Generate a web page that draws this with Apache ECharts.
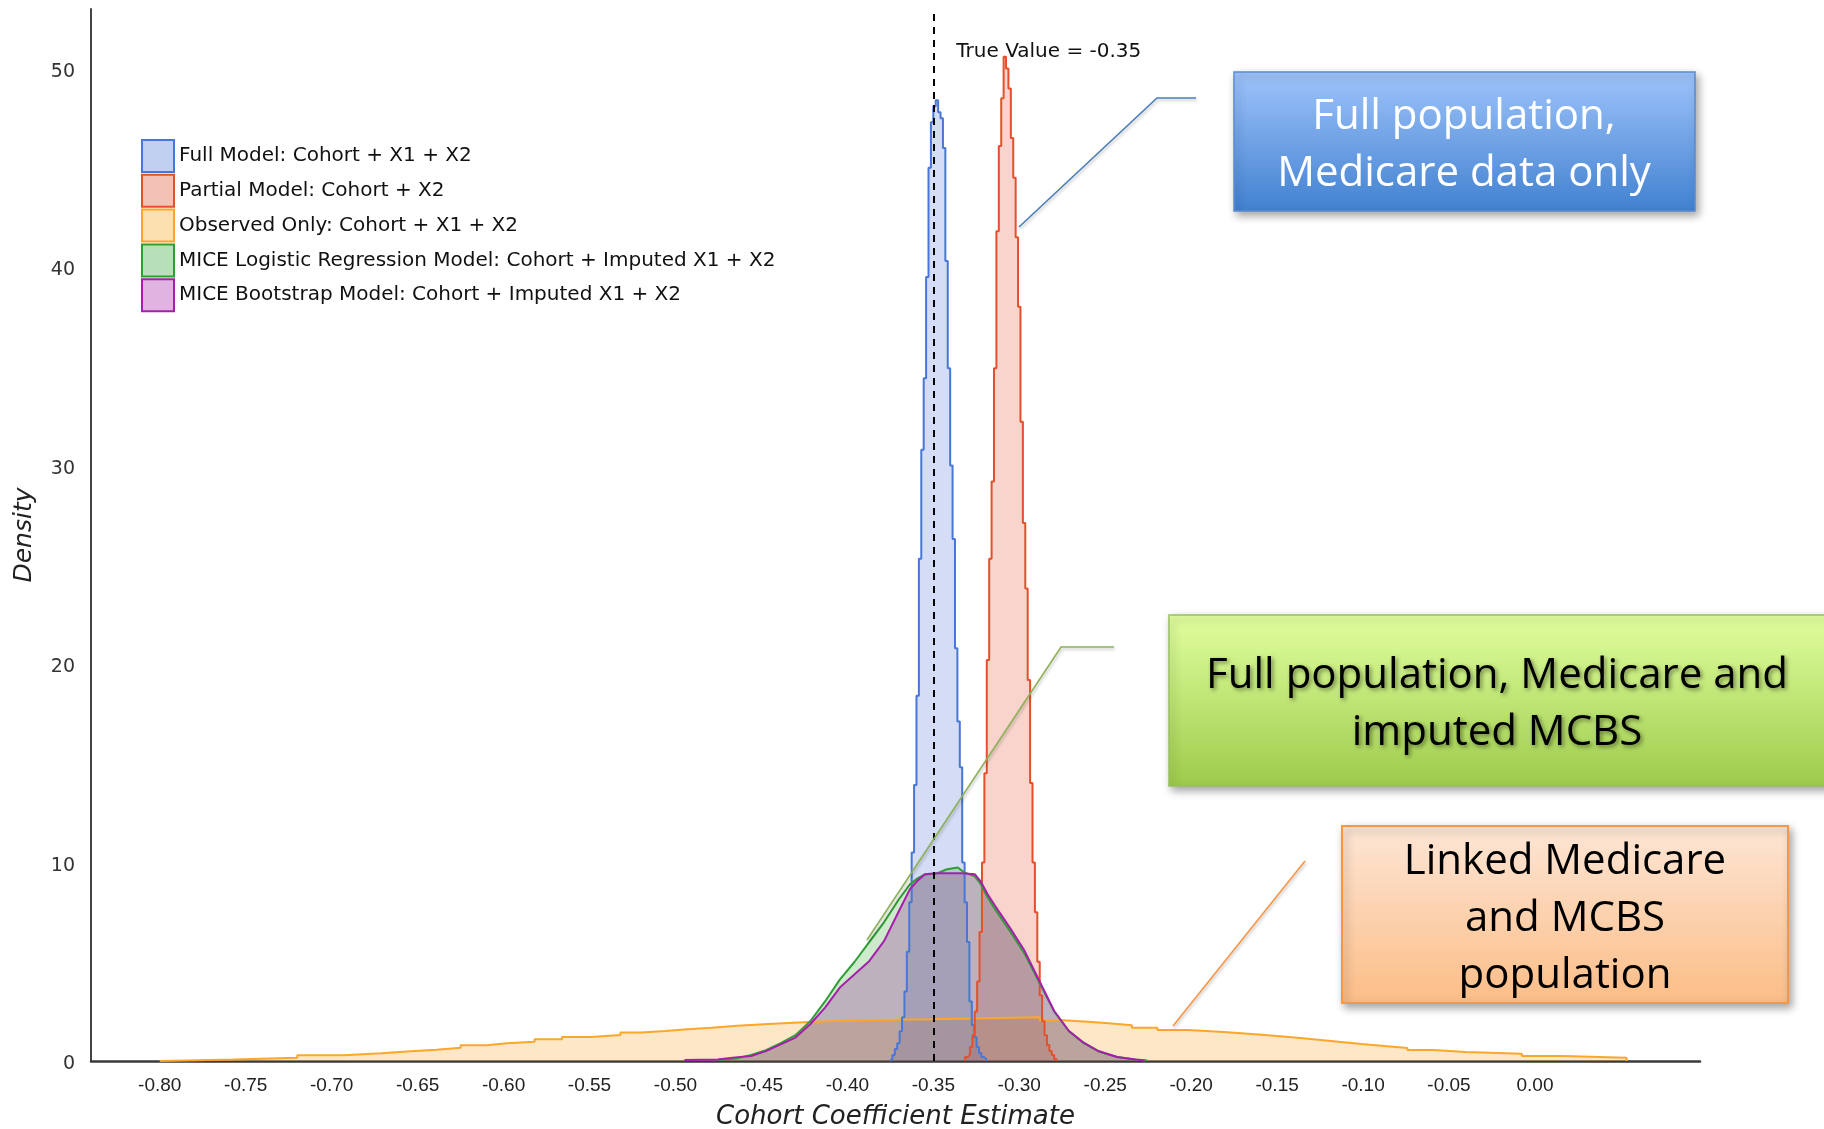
<!DOCTYPE html>
<html>
<head>
<meta charset="utf-8">
<script src="https://cdn.jsdelivr.net/npm/echarts@6/dist/echarts.min.js"></script>
<style>
html,body{margin:0;padding:0;background:#ffffff;}
#chart{width:1824px;height:1129px;}
</style>
</head>
<body>
<div id="chart"></div>
<script>
// ---------------- data ----------------
const seriesNames = [
  'Full Model: Cohort + X1 + X2',
  'Partial Model: Cohort + X2',
  'Observed Only: Cohort + X1 + X2',
  'MICE Logistic Regression Model: Cohort + Imputed X1 + X2',
  'MICE Bootstrap Model: Cohort + Imputed X1 + X2'
];
const xTickValues = [-0.80, -0.75, -0.70, -0.65, -0.60, -0.55, -0.50, -0.45, -0.40, -0.35, -0.30, -0.25, -0.20, -0.15, -0.10, -0.05, 0.00];
const yTickValues = [0, 10, 20, 30, 40, 50];
const trueValue = -0.35;
const trueValueLabel = 'True Value = -0.35';

// Full model histogram (bin start, bin width, densities)
const fullBinStart = -0.3752;
const fullBinWidth = 0.0014;
const fullDensity = [0.1, 0.3, 0.6, 0.9, 1.5, 2.2, 3.5, 5.5, 8.0, 10.5,
  13.9, 18.4, 25.3, 30.8, 34.4, 39.5, 45.0, 47.3, 48.1, 48.4,
  47.8, 47.5, 46.0, 40.3, 34.9, 30.0, 26.3, 20.8, 17.1, 14.8,
  10.0, 8.0, 6.0, 3.0, 1.8, 1.2, 0.7, 0.4, 0.2, 0.1];

// Partial model histogram
const partialBinStart = -0.3315;
const partialBinWidth = 0.0014;
const partialDensity = [0.2, 0.3, 0.7, 1.3, 2.5, 4.0, 6.5, 10.0, 14.5, 20.2,
  25.3, 29.2, 34.9, 41.8, 46.1, 48.5, 50.6, 50.0, 49.0, 46.5,
  44.5, 41.5, 38.0, 32.2, 27.1, 23.8, 19.2, 14.0, 10.0, 7.5,
  5.0, 3.3, 2.0, 1.3, 0.8, 0.5, 0.3, 0.1];

// Observed only histogram (step edges and densities)
const observedEdges = [-0.800, -0.757, -0.720, -0.693, -0.671, -0.654, -0.639, -0.625, -0.610, -0.598,
  -0.582, -0.566, -0.549, -0.532, -0.520, -0.506, -0.493, -0.479, -0.464, -0.446,
  -0.422, -0.395, -0.351, -0.288, -0.2745, -0.260, -0.248, -0.2345, -0.2196, -0.2018,
  -0.181, -0.1648, -0.150, -0.1366, -0.1247, -0.1129, -0.101, -0.0876, -0.0742, -0.0594,
  -0.0402, -0.0076, 0.0162, 0.0533];
const observedDensity = [0.08, 0.17, 0.29, 0.39, 0.49, 0.57, 0.67, 0.79, 0.89, 0.97,
  1.09, 1.21, 1.31, 1.43, 1.51, 1.60, 1.68, 1.78, 1.87, 1.97,
  2.05, 2.10, 2.20, 2.05, 1.98, 1.90, 1.80, 1.68, 1.56, 1.46,
  1.36, 1.26, 1.16, 1.06, 0.96, 0.86, 0.76, 0.66, 0.55, 0.45,
  0.37, 0.25, 0.17];

// MICE logistic regression density curve
const miceLrX = [-0.4755, -0.465, -0.456, -0.4474, -0.4388, -0.4302, -0.4216, -0.413, -0.4044, -0.3958,
  -0.3872, -0.3786, -0.370, -0.3636, -0.3592, -0.3549, -0.348, -0.342, -0.3357, -0.332,
  -0.3259, -0.3227, -0.3184, -0.3141, -0.3055, -0.2969, -0.2883, -0.2797, -0.2711, -0.2625,
  -0.2539, -0.2431, -0.2324, -0.2255];
const miceLrY = [0.05, 0.12, 0.30, 0.55, 0.90, 1.30, 2.00, 3.00, 4.10, 5.00,
  6.00, 7.00, 8.15, 8.90, 9.20, 9.40, 9.45, 9.66, 9.75, 9.50,
  9.30, 8.95, 8.25, 7.65, 6.55, 5.40, 3.95, 2.50, 1.50, 0.90,
  0.48, 0.20, 0.07, 0.02];

// MICE bootstrap density curve
const miceBsX = [-0.4948, -0.4754, -0.4668, -0.456, -0.4474, -0.4388, -0.4302, -0.4216, -0.413, -0.4044,
  -0.3958, -0.3872, -0.3786, -0.370, -0.3636, -0.3592, -0.3549, -0.3485, -0.3334, -0.3259,
  -0.3227, -0.3184, -0.3141, -0.3055, -0.2969, -0.2883, -0.2797, -0.2711, -0.2625, -0.2539,
  -0.2431, -0.2324, -0.227];
const miceBsY = [0.05, 0.08, 0.17, 0.25, 0.50, 0.84, 1.18, 1.85, 2.69, 3.70,
  4.37, 5.04, 6.05, 7.56, 8.66, 9.08, 9.41, 9.46, 9.46, 9.41,
  9.08, 8.40, 7.82, 6.72, 5.55, 4.03, 2.52, 1.51, 0.92, 0.50,
  0.20, 0.07, 0.03];

// ---------------- helpers ----------------
function binsToStep(start, width, dens) {
  const pts = [[start, 0]];
  dens.forEach((d, i) => pts.push([+(start + i * width).toFixed(5), d]));
  pts.push([+(start + dens.length * width).toFixed(5), 0]);
  return pts;
}
function edgesToStep(edges, dens) {
  const pts = [[edges[0], 0]];
  dens.forEach((d, i) => pts.push([edges[i], d]));
  pts.push([edges[edges.length - 1], 0]);
  return pts;
}
function zipXY(xs, ys) { return xs.map((x, i) => [x, ys[i]]); }

const styles = {
  full:     { line: '#4877d6', area: 'rgba(70,110,210,0.33)', swatch: '#c1d0f0' },
  partial:  { line: '#e4502c', area: 'rgba(225,80,50,0.35)',  swatch: '#f3c1b5' },
  observed: { line: '#fca62a', area: 'rgba(252,175,60,0.42)', swatch: '#fde0b0' },
  miceLr:   { line: '#2f9e35', area: 'rgba(50,170,50,0.35)',  swatch: '#b8e0b8' },
  miceBs:   { line: '#a61fab', area: 'rgba(150,40,150,0.42)', swatch: '#e0b3e0' }
};

const chart = echarts.init(document.getElementById('chart'), null, { renderer: 'canvas' });

function lineSeries(name, data, st, step) {
  return {
    type: 'line', name: name, data: data, step: step || false,
    symbol: 'none', showSymbol: false, smooth: false, silent: true,
    lineStyle: { color: st.line, width: 2 },
    itemStyle: { color: st.line },
    areaStyle: { color: st.area, origin: 'start' },
    emphasis: { disabled: true }
  };
}

const option = {
  animation: false,
  backgroundColor: '#ffffff',
  grid: { left: 91, right: 124, top: 9, bottom: 68, containLabel: false, outerBoundsMode: 'none' },
  xAxis: {
    type: 'value', min: -0.84, max: 0.096,
    name: 'Cohort Coefficient Estimate', nameLocation: 'middle', nameGap: 43,
    nameTextStyle: { fontFamily: 'DejaVu Sans', fontStyle: 'italic', fontSize: 26, color: '#222' },
    axisLine: { show: true, onZero: false, lineStyle: { color: '#3a3a3a', width: 2.5 } },
    axisTick: { show: false },
    splitLine: { show: false },
    axisLabel: {
      customValues: xTickValues, margin: 15,
      formatter: v => Number(v).toFixed(2),
      fontFamily: 'Liberation Sans', fontSize: 19, color: '#222'
    }
  },
  yAxis: {
    type: 'value', min: 0, max: 53,
    name: 'Density', nameLocation: 'middle', nameGap: 54, nameRotate: 90,
    nameTextStyle: { fontFamily: 'DejaVu Sans', fontStyle: 'italic', fontSize: 25, color: '#222' },
    axisLine: { show: true, onZero: false, lineStyle: { color: '#444', width: 2 } },
    axisTick: { show: false },
    splitLine: { show: false },
    axisLabel: {
      customValues: yTickValues, margin: 16, verticalAlign: 'top', lineHeight: 7,
      fontFamily: 'DejaVu Sans', fontSize: 19, color: '#333'
    }
  },
  legend: {
    orient: 'vertical', left: 141, top: 139, padding: 0,
    itemWidth: 32, itemHeight: 32, itemGap: 0.8,
    selectedMode: false,
    textStyle: { fontFamily: 'DejaVu Sans', fontSize: 20, color: '#111' },
    data: [
      { name: seriesNames[0], icon: 'rect', itemStyle: { color: styles.full.swatch, borderColor: styles.full.line, borderWidth: 2 } },
      { name: seriesNames[1], icon: 'rect', itemStyle: { color: styles.partial.swatch, borderColor: styles.partial.line, borderWidth: 2 } },
      { name: seriesNames[2], icon: 'rect', itemStyle: { color: styles.observed.swatch, borderColor: styles.observed.line, borderWidth: 2 } },
      { name: seriesNames[3], icon: 'rect', itemStyle: { color: styles.miceLr.swatch, borderColor: styles.miceLr.line, borderWidth: 2 } },
      { name: seriesNames[4], icon: 'rect', itemStyle: { color: styles.miceBs.swatch, borderColor: styles.miceBs.line, borderWidth: 2 } }
    ]
  },
  series: [
    lineSeries(seriesNames[2], edgesToStep(observedEdges, observedDensity), styles.observed, 'end'),
    lineSeries(seriesNames[0], binsToStep(fullBinStart, fullBinWidth, fullDensity), styles.full, 'end'),
    lineSeries(seriesNames[1], binsToStep(partialBinStart, partialBinWidth, partialDensity), styles.partial, 'end'),
    lineSeries(seriesNames[3], zipXY(miceLrX, miceLrY), styles.miceLr, false),
    Object.assign(lineSeries(seriesNames[4], zipXY(miceBsX, miceBsY), styles.miceBs, false), {
      markLine: {
        silent: true, symbol: ['none', 'none'], animation: false,
        label: { show: false },
        lineStyle: { color: '#000', type: [7, 6], width: 2 },
        data: [{ xAxis: trueValue }]
      }
    })
  ]
};
chart.setOption(option);

// ---------------- annotations ----------------
const tv = chart.convertToPixel({ gridIndex: 0 }, [trueValue, 51]);
function grad(c1, c2) {
  return { type: 'linear', x: 0, y: 0, x2: 0, y2: 1, colorStops: [{ offset: 0, color: c1 }, { offset: 1, color: c2 }] };
}
const boxShadow = { shadowBlur: 8, shadowOffsetX: 3, shadowOffsetY: 4, shadowColor: 'rgba(0,0,0,0.35)' };
const lineShadow = { shadowBlur: 3, shadowOffsetX: 1, shadowOffsetY: 2, shadowColor: 'rgba(0,0,0,0.25)' };

chart.setOption({
  graphic: [
    { type: 'text', z: 100, x: tv[0] + 23, y: tv[1] + 3,
      style: { text: trueValueLabel, fill: '#111', font: '20px "DejaVu Sans"', textAlign: 'left', textVerticalAlign: 'middle', align: 'left', verticalAlign: 'middle' } },

    // leader lines
    { type: 'polyline', z: 100, shape: { points: [[1196, 98], [1157, 98], [1019, 227]] },
      style: Object.assign({ stroke: '#4a7ebb', lineWidth: 1.6, fill: null }, lineShadow) },
    { type: 'polyline', z: 100, shape: { points: [[1114, 647], [1061, 647], [867, 940]] },
      style: Object.assign({ stroke: '#8db255', lineWidth: 1.6, fill: null }, lineShadow) },
    { type: 'polyline', z: 100, shape: { points: [[1305, 861], [1173, 1026]] },
      style: Object.assign({ stroke: '#f79646', lineWidth: 1.6, fill: null }, lineShadow) },

    // box 1
    { type: 'rect', z: 100, shape: { x: 1234, y: 72, width: 461, height: 139 },
      style: Object.assign({ fill: grad('#9fc4fb', '#4181d0'), stroke: '#5b8bd0', lineWidth: 1.5 }, boxShadow) },
    { type: 'text', z: 101, x: 1464, y: 146,
      style: { text: 'Full population,\nMedicare data only', fill: '#ffffff', font: '42px "Open Sans"', lineHeight: 57,
               textAlign: 'center', textVerticalAlign: 'middle', align: 'center', verticalAlign: 'middle' } },

    // box 2
    { type: 'rect', z: 100, shape: { x: 1169, y: 615, width: 700, height: 171 },
      style: Object.assign({ fill: grad('#e1ff9f', '#9dcb4b'), stroke: '#98c060', lineWidth: 1.5 }, boxShadow) },
    { type: 'text', z: 101, x: 1497, y: 705,
      style: { text: 'Full population, Medicare and\nimputed MCBS', fill: '#000000', font: '42px "Open Sans"', lineHeight: 57,
               textAlign: 'center', textVerticalAlign: 'middle', align: 'center', verticalAlign: 'middle',
               textShadowBlur: 4, textShadowColor: 'rgba(0,0,0,0.45)', textShadowOffsetX: 2, textShadowOffsetY: 2 } },

    // box 3
    { type: 'rect', z: 100, shape: { x: 1342, y: 826, width: 446, height: 177 },
      style: Object.assign({ fill: grad('#fde6d6', '#fbbd86'), stroke: '#f79646', lineWidth: 2 }, boxShadow) },
    { type: 'text', z: 101, x: 1565, y: 919,
      style: { text: 'Linked Medicare\nand MCBS\npopulation', fill: '#000000', font: '42px "Open Sans"', lineHeight: 57,
               textAlign: 'center', textVerticalAlign: 'middle', align: 'center', verticalAlign: 'middle' } }
  ]
});
</script>
</body>
</html>
